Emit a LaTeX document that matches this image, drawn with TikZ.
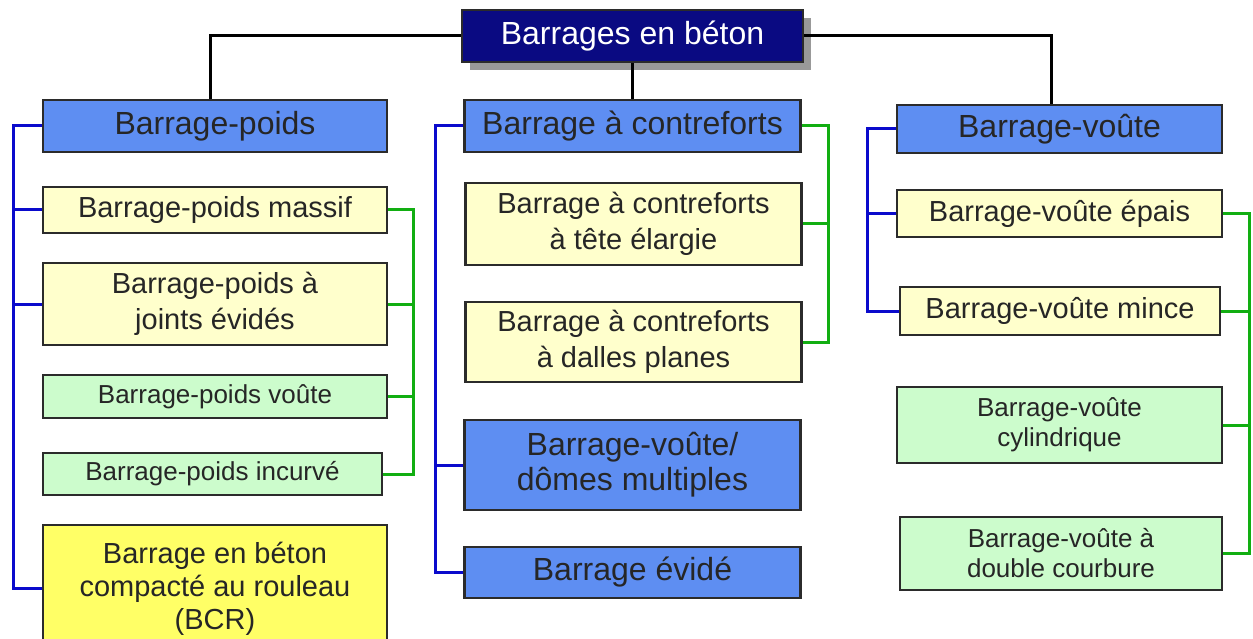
\documentclass[tikz,border=0pt]{standalone}
\usepackage{fontspec}
\setmainfont{Liberation Sans}
\usepackage{xcolor}
\usepackage{tikz}
\usetikzlibrary{positioning, calc, shadows}
\definecolor{navy}{HTML}{0A0A82}
\definecolor{typefill}{HTML}{5E8EF2}
\definecolor{subfill}{HTML}{FFFFCC}
\definecolor{variantfill}{HTML}{CCFCCC}
\definecolor{bcrfill}{HTML}{FFFF66}
\definecolor{edge}{HTML}{2B2B2B}
\definecolor{linkblue}{HTML}{0A0ACC}
\definecolor{linkgreen}{HTML}{12AE12}

\begin{document}
\begin{tikzpicture}[
    x=1pt, y=-1pt,
    box/.style={rectangle, draw=edge, line width=2.5pt, align=center,
                inner sep=2pt, text=black!85},
    rootbox/.style={box, fill=navy, text=white, minimum width=341pt,
                    minimum height=52pt, font=\fontsize{32}{36}\selectfont,
                    drop shadow={shadow xshift=8pt, shadow yshift=-8pt,
                                 fill=black!40, draw=none, opacity=1}},
    typebox/.style={box, fill=typefill, font=\fontsize{32}{35}\selectfont},
    subbox/.style={box, fill=subfill, font=\fontsize{29}{36}\selectfont},
    variantbox/.style={box, fill=variantfill, font=\fontsize{26}{30}\selectfont},
    bcrbox/.style={box, fill=bcrfill, font=\fontsize{29}{33}\selectfont},
    leftcol/.style={minimum width=344pt},
    midcol/.style={minimum width=336pt},
    rightcol/.style={minimum width=325pt},
    rootlink/.style={line width=3pt, color=black},
    bluelink/.style={line width=3pt, color=linkblue},
    greenlink/.style={line width=3pt, color=linkgreen}
]
\clip (0,0) rectangle (1253,639);

% Root
\node[rootbox] (root) at (632.5,36) {Barrages en béton};

% Barrage-poids column
\node[typebox, leftcol, minimum height=52pt] (poids) at (215,126) {Barrage-poids};
\node[subbox, leftcol, minimum height=46pt] (massif) at (215,210) {Barrage-poids massif};
\node[subbox, leftcol, minimum height=82pt] (joints) at (215,304) {Barrage-poids à\\joints évidés};
\node[variantbox, leftcol, minimum height=43pt] (pvoute) at (215,396.5) {Barrage-poids voûte};
\node[variantbox, minimum width=339pt, minimum height=42pt] (incurve) at (212.5,474) {Barrage-poids incurvé};
\node[bcrbox, leftcol, minimum height=127pt] (bcr) at (215,588.5) {Barrage en béton\\compacté au rouleau\\(BCR)};

% Barrage a contreforts column
\node[typebox, midcol, minimum height=52pt] (contre) at (632.5,126) {Barrage à contreforts};
\node[subbox, midcol, minimum height=82pt] (tete) at (633.5,224) {Barrage à contreforts\\à tête élargie};
\node[subbox, midcol, minimum height=80pt] (dalles) at (633.5,342) {Barrage à contreforts\\à dalles planes};
\node[typebox, midcol, minimum height=90pt] (domes) at (632.5,465) {Barrage-voûte/\\dômes multiples};
\node[typebox, midcol, minimum height=51pt] (evide) at (632.5,572.5) {Barrage évidé};

% Barrage-voute column
\node[typebox, rightcol, minimum height=48pt] (voute) at (1059.5,129) {Barrage-voûte};
\node[subbox, rightcol, minimum height=47pt] (epais) at (1059.5,213.5) {Barrage-voûte épais};
\node[subbox, minimum width=320pt, minimum height=48pt] (mince) at (1060,311) {Barrage-voûte mince};
\node[variantbox, rightcol, minimum height=76pt] (cyl) at (1059.5,425) {Barrage-voûte\\cylindrique};
\node[variantbox, minimum width=322pt, minimum height=73pt] (double) at (1061,553.5) {Barrage-voûte à\\double courbure};

% Spines
\coordinate (lblue) at (13,0);
\coordinate (lgreen) at (413,0);
\coordinate (mblue) at (435,0);
\coordinate (mgreen) at (828,0);
\coordinate (rblue) at (867,0);
\coordinate (rgreen) at (1249,0);

% Root links
\draw[rootlink] (root.west) -| ([xshift=-5pt]poids.north);
\draw[rootlink] (root.east) -| ([xshift=-8pt]voute.north);
\draw[rootlink] (root.south) -- (contre.north);

% Blue links
\draw[bluelink] (poids.west) -- (poids.west -| lblue) -- (bcr.west -| lblue) -- (bcr.west);
\foreach \n in {massif, joints}
  \draw[bluelink] (\n.west) -- (\n.west -| lblue);
\draw[bluelink] (contre.west) -- (contre.west -| mblue) -- (evide.west -| mblue) -- (evide.west);
\draw[bluelink] (domes.west) -- (domes.west -| mblue);
\draw[bluelink] (voute.west) -- (voute.west -| rblue) -- (mince.west -| rblue) -- (mince.west);
\draw[bluelink] (epais.west) -- (epais.west -| rblue);

% Green links
\draw[greenlink] (massif.east) -- (massif.east -| lgreen) -- (incurve.east -| lgreen) -- (incurve.east);
\foreach \n in {joints, pvoute}
  \draw[greenlink] (\n.east) -- (\n.east -| lgreen);
\draw[greenlink] (contre.east) -- (contre.east -| mgreen) -- (dalles.east -| mgreen) -- (dalles.east);
\draw[greenlink] (tete.east) -- (tete.east -| mgreen);
\draw[greenlink] (epais.east) -- (epais.east -| rgreen) -- (double.east -| rgreen) -- (double.east);
\foreach \n in {mince, cyl}
  \draw[greenlink] (\n.east) -- (\n.east -| rgreen);

\end{tikzpicture}
\end{document}
